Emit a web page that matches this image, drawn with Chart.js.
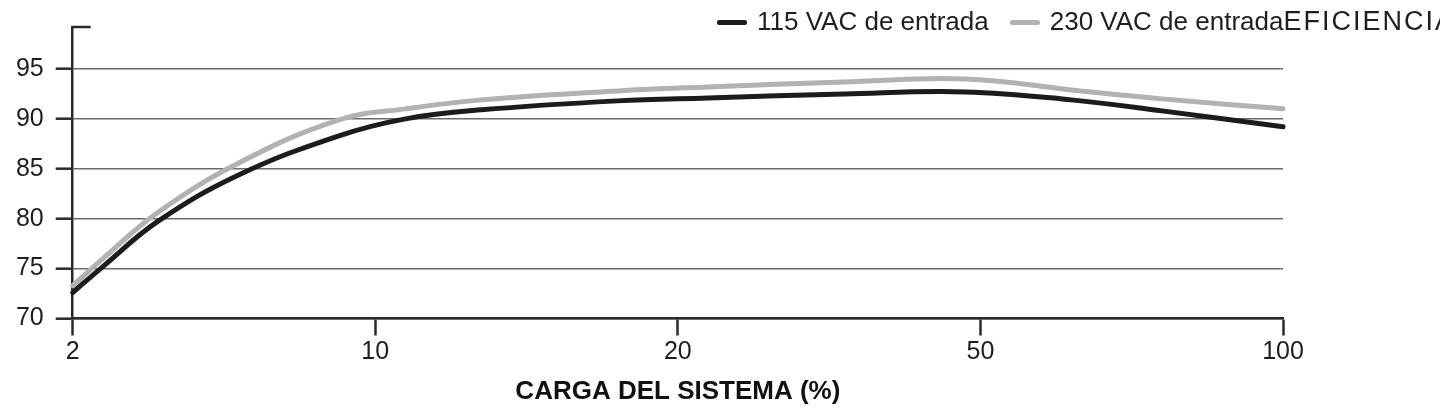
<!DOCTYPE html>
<html>
<head>
<meta charset="utf-8">
<script src="https://cdn.jsdelivr.net/npm/chart.js@4"></script>
<style>
  body { margin: 0; background: #fff; overflow: hidden; }
  #wrap { position: relative; width: 1440px; height: 412px; }
  #legend {
    position: absolute; left: 717px; top: 6px;
    font: 26px "Liberation Sans", Arial, sans-serif; color: #1e1e1e;
    white-space: nowrap; line-height: 30px;
  }
  .legend-item { display: inline-block; }
  .legend-item + .legend-item { margin-left: 21px; }
  .legend-swatch {
    display: inline-block; width: 30px; height: 5px; border-radius: 2px;
    vertical-align: middle; margin-right: 10px; position: relative; top: -1px;
  }
  .axis-name { font-size: 27px; letter-spacing: 2px; }
</style>
</head>
<body>
<div id="wrap">
  <canvas id="chartCanvas" width="1440" height="412"></canvas>
  <div id="legend"></div>
</div>
<script>
// x positions are in axis steps: 0 = 2 %, 1 = 10 %, 2 = 20 %, 3 = 50 %, 4 = 100 %
const loadTicks = ["2", "10", "20", "50", "100"];
const loadPos = [0, 0.1, 0.28, 0.55, 0.88, 1.1, 1.35, 1.8, 2.1, 2.55, 2.95, 3.3, 3.6, 4.0];
const vac115 = [72.6, 75.2, 79.7, 84.4, 88.3, 90.0, 90.9, 91.8, 92.1, 92.5, 92.7, 91.9, 90.8, 89.2];
const vac230 = [73.3, 76.0, 80.6, 85.6, 89.9, 91.0, 91.9, 92.8, 93.2, 93.7, 94.0, 92.9, 92.0, 91.0];
const yTicks = [70, 75, 80, 85, 90, 95];

const seriesNames = ["115 VAC de entrada", "230 VAC de entrada"];
const colors = ["#1c1c1c", "#b2b2b2"];
const yTitle = "EFICIENCIA (%)";
const xTitle = "CARGA DEL SISTEMA (%)";

const font = "'Liberation Sans', Arial, sans-serif";

const legend = document.getElementById("legend");
seriesNames.forEach((name, i) => {
  const item = document.createElement("span");
  item.className = "legend-item";
  const swatch = document.createElement("span");
  swatch.className = "legend-swatch";
  swatch.style.backgroundColor = colors[i];
  const text = document.createElement("span");
  text.textContent = name;
  item.append(swatch, text);
  legend.appendChild(item);
});
const titleSpan = document.createElement("span");
titleSpan.className = "axis-name";
titleSpan.textContent = yTitle;
legend.appendChild(titleSpan);

const toPoints = (vals) => vals.map((v, i) => ({ x: loadPos[i], y: v }));

// little cap at the top of the y axis
const axisCap = {
  id: "axisCap",
  afterDraw(chart) {
    const { ctx, chartArea } = chart;
    ctx.save();
    ctx.strokeStyle = "#2a2a2a";
    ctx.lineWidth = 2.5;
    ctx.beginPath();
    ctx.moveTo(chartArea.left - 1, chartArea.top);
    ctx.lineTo(chartArea.left + 18, chartArea.top);
    ctx.stroke();
    ctx.restore();
  },
};

new Chart(document.getElementById("chartCanvas").getContext("2d"), {
  type: "line",
  data: {
    datasets: seriesNames.map((name, i) => ({
      label: name,
      data: toPoints(i === 0 ? vac115 : vac230),
      borderColor: colors[i],
      borderWidth: 5,
      borderCapStyle: "round",
      pointRadius: 0,
      tension: 0.4,
      clip: 6,
    })),
  },
  options: {
    responsive: false,
    animation: false,
    layout: { padding: { top: 22, right: 157, left: 0, bottom: 0 } },
    plugins: { legend: { display: false }, tooltip: { enabled: false } },
    scales: {
      x: {
        type: "linear",
        min: 0,
        max: loadTicks.length - 1,
        afterFit: (s) => { s.height = 93.5; },
        afterBuildTicks: (s) => { s.ticks = loadTicks.map((_, i) => ({ value: i })); },
        ticks: {
          callback: (v) => loadTicks[v],
          font: { family: font, size: 25 },
          color: "#1e1e1e",
          padding: 2,
          maxRotation: 0,
        },
        grid: {
          drawOnChartArea: false,
          tickLength: 17,
          tickColor: "#2a2a2a",
          tickWidth: 2.5,
        },
        border: { color: "#2a2a2a", width: 2.5 },
        title: {
          display: true,
          text: xTitle,
          font: { family: font, size: 26, weight: "bold" },
          color: "#111",
          padding: { top: 0, bottom: 5 },
        },
      },
      y: {
        min: 70,
        max: 99.2,
        afterFit: (s) => { s.width = 72.7; },
        afterBuildTicks: (s) => { s.ticks = yTicks.map((v) => ({ value: v })); },
        ticks: {
          font: { family: font, size: 25 },
          color: "#1e1e1e",
          padding: 12,
        },
        grid: {
          color: "#6a6a6a",
          lineWidth: 1.4,
          tickLength: 17,
          tickColor: "#2a2a2a",
          tickWidth: 2.5,
        },
        border: { color: "#2a2a2a", width: 2.5 },
      },
    },
  },
  plugins: [axisCap],
});
</script>
</body>
</html>
